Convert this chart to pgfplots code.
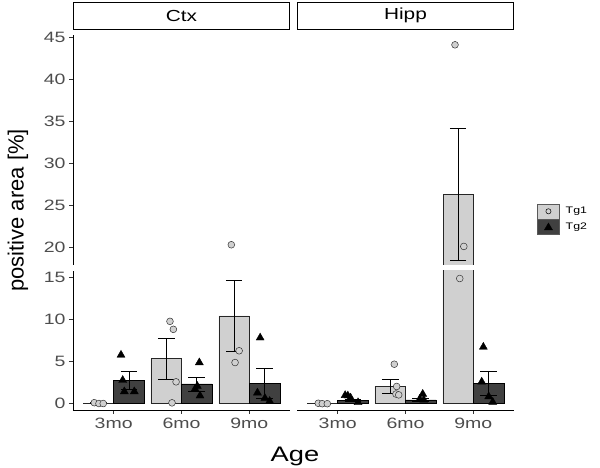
\documentclass[border=0pt]{standalone}
\usepackage{pgfplots}
\pgfplotsset{compat=1.18}
\usepackage{pgfplotstable}
\usepackage{fontspec}
\setmainfont{Liberation Sans}[FakeStretch=1.3]
\newfontfamily\plainfont{Liberation Sans}
\definecolor{tgone}{HTML}{D0D0D0}
\definecolor{tgtwo}{HTML}{404040}
\definecolor{tickgray}{HTML}{4D4D4D}

% bar means and standard errors (x already dodged)
\pgfplotstableread{
x y e
0.775 0.08 0.05
1.775 5.35 2.4
2.775 10.45 4.2
}\ctxA
\pgfplotstableread{
x y e
1.225 2.8 1.05
2.225 2.35 0.85
3.225 2.45 1.75
}\ctxB
\pgfplotstableread{
x y e
0.775 0.02 0.02
1.775 2.05 0.85
2.775 26.35 7.85
}\hipA
\pgfplotstableread{
x y e
1.225 0.38 0.15
2.225 0.45 0.2
3.225 2.4 1.45
}\hipB
% outline of the one bar that reaches the upper panel (Hipp, 9mo, Tg1)
\pgfplotstableread{
x y
2.55 0
2.55 26.35
3.00 26.35
3.00 0
}\hipAtall
% individual points
\pgfplotstableread{
x y
0.714 0.12
0.783 0.02
0.846 0.02
1.83 9.8
1.88 8.85
1.92 2.6
1.86 0.1
2.735 20.3
2.85 6.3
2.79 4.9
}\ctxAp
\pgfplotstableread{
x y
1.108 5.8
1.133 2.8
1.157 1.45
1.304 1.45
2.263 4.9
2.233 2.1
2.20 1.75
2.273 0.95
3.16 7.85
3.12 1.3
3.23 0.65
3.30 0.3
}\ctxBp
\pgfplotstableread{
x y
0.714 0.05
0.773 0.0
0.847 0.0
1.835 4.7
1.87 2.05
1.86 1.15
1.90 1.05
2.73 44.1
2.86 20.1
2.80 14.9
}\hipAp
\pgfplotstableread{
x y
1.11 1.0
1.15 0.95
1.19 0.7
1.30 0.15
2.254 1.15
2.21 0.55
2.27 0.45
3.148 6.75
3.124 2.6
3.227 0.85
3.286 0.2
}\hipBp

\pgfplotsset{
  panel/.style={scale only axis, width=217pt, xmin=0.4, xmax=3.6, anchor=south west,
    axis line style={line width=0.8pt, black},
    tick style={line width=0.8pt, black!80},
    major tick length=4pt, tick align=outside,
    xtick={1,2,3}, xticklabels={3mo,6mo,9mo},
    tick label style={font=\fontsize{15}{17}\selectfont, text=tickgray},
    /pgf/number format/assume math mode=true,
    clip=true},
  lower/.style={panel, height=139.3pt, ymin=-0.75, ymax=15.83, ytick={0,5,10,15}},
  upper/.style={panel, height=230pt, ymin=17.89, ymax=45.27, ytick={20,25,30,35,40,45},
    title style={at={(0.5,1)}, anchor=south, yshift=0pt, draw=black, line width=0.9pt,
      minimum width=216pt, minimum height=26.7pt, inner sep=0pt, outer sep=0pt,
      font=\fontsize{16}{17}\selectfont}},
  barA/.style={ybar, bar width=0.45, bar shift=0pt, fill=tgone, draw=black!85, line width=0.5pt, forget plot},
  barB/.style={ybar, bar width=0.45, bar shift=0pt, fill=tgtwo, draw=black, line width=0.5pt, forget plot},
  errb/.style={draw=none, forget plot, error bars/.cd, y dir=both, y explicit,
    error bar style={draw=black, line width=0.6pt},
    error mark options={rotate=90, draw=black, mark size=8.3pt, line width=0.6pt}},
  ptA/.style={only marks, mark=*, mark size=3.4pt, forget plot,
    mark options={fill=tgone, draw=black!80, line width=0.5pt}},
  ptB/.style={only marks, mark=triangle*, mark size=4.6pt, forget plot,
    mark options={fill=black, draw=black}},
}

\newcommand{\drawlower}[4]{%
  \addplot[barA] table[x=x,y=y] {#1};
  \addplot[barB] table[x=x,y=y] {#2};
  \addplot[errb] table[x=x,y=y,y error=e] {#1};
  \addplot[errb] table[x=x,y=y,y error=e] {#2};
  \addplot[ptA] table[x=x,y=y] {#3};
  \addplot[ptB] table[x=x,y=y] {#4};
}

\begin{document}
\begin{tikzpicture}
\useasboundingbox (0,0) rectangle (600pt,468pt);

% Ctx lower
\begin{axis}[lower, at={(73pt,58pt)}, axis x line*=bottom, axis y line*=left,
  xlabel={Age}, xlabel style={at={(1.023,-0.371)}, anchor=base, font=\fontsize{21}{24}\selectfont}]
\drawlower{\ctxA}{\ctxB}{\ctxAp}{\ctxBp}
\end{axis}
% Ctx upper
\begin{axis}[upper, at={(73pt,203pt)}, axis x line=none, axis y line*=left, title={Ctx},
  ylabel={positive area [\%]}, ylabel style={at={(-0.2535,0.237)}, anchor=center, font=\plainfont\fontsize{22}{24}\selectfont}]
\addplot[ptA] table[x=x,y=y] {\ctxAp};
\addplot[ptB] table[x=x,y=y] {\ctxBp};
\end{axis}
% Hipp lower
\begin{axis}[lower, at={(297pt,58pt)}, axis x line*=bottom, axis y line=none]
\drawlower{\hipA}{\hipB}{\hipAp}{\hipBp}
\end{axis}
% Hipp upper
\begin{axis}[upper, at={(297pt,203pt)}, axis lines=none, title={Hipp},
  legend style={at={(1.106,0.268)}, anchor=north west, draw=none, fill=none, inner sep=0pt,
    row sep=0pt, column sep=4pt, font=\fontsize{9.5}{10}\selectfont},
  legend cell align=left]
\addplot[fill=tgone, draw=black!85, line width=0.5pt, forget plot] table[x=x,y=y] {\hipAtall};
\addplot[errb] table[x=x,y=y,y error=e] {\hipA};
\addplot[errb] table[x=x,y=y,y error=e] {\hipB};
\addplot[ptA] table[x=x,y=y] {\hipAp};
\addplot[ptB] table[x=x,y=y] {\hipBp};
\addlegendimage{legend image code/.code={
  \draw[fill=tgone, draw=gray!70!black, line width=0.5pt] (0pt,-7.5pt) rectangle (22pt,7.5pt);
  \draw[fill=tgone, draw=black, line width=0.5pt] (11pt,0pt) circle (2.6pt);}}
\addlegendentry{Tg1}
\addlegendimage{legend image code/.code={
  \draw[fill=tgtwo, draw=gray!70!black, line width=0.5pt] (0pt,-7.5pt) rectangle (22pt,7.5pt);
  \fill[black] (11pt,3.8pt) -- (15pt,-3pt) -- (7pt,-3pt) -- cycle;}}
\addlegendentry{Tg2}
\end{axis}
\end{tikzpicture}
\end{document}
